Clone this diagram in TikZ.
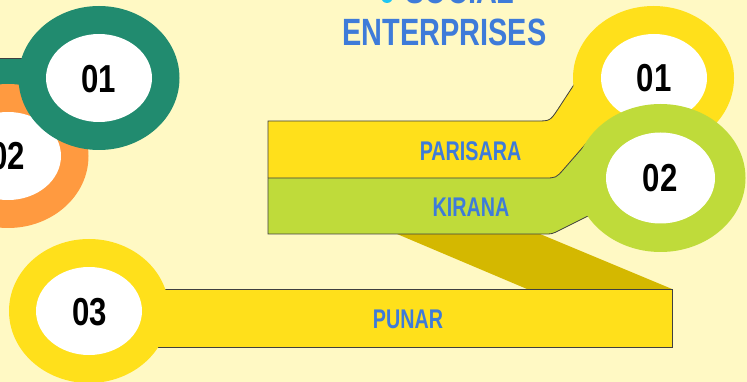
\documentclass[tikz,border=0pt]{standalone}
\usepackage{fontspec}
\setmainfont{Liberation Sans}
\newfontfamily\numfont{Liberation Sans}[FakeStretch=0.8]
\newfontfamily\labfont{Liberation Sans}[FakeStretch=0.73]
\newfontfamily\ttlfont{Liberation Sans}[FakeStretch=0.76]
\definecolor{bgc}{HTML}{FFF9C4}
\definecolor{teal}{HTML}{218B6F}
\definecolor{orng}{HTML}{FF9A40}
\definecolor{ylw}{HTML}{FFE01B}
\definecolor{lime}{HTML}{BFDB3A}
\definecolor{gold}{HTML}{D4B800}
\definecolor{blu}{HTML}{3E7BD9}
\definecolor{cyn}{HTML}{1FC6F2}
\tikzset{
  edge/.style={draw=black!75, line width=0.8pt},
  numtxt/.style={font=\numfont\bfseries\fontsize{39}{39}\selectfont, anchor=base, inner sep=0pt, text=black},
  labtxt/.style={font=\labfont\bfseries\fontsize{27}{27}\selectfont, anchor=base, inner sep=0pt, text=blu},
  ttltxt/.style={font=\ttlfont\bfseries\fontsize{38}{38}\selectfont, anchor=base, inner sep=0pt, text=blu},
}
\begin{document}
\begin{tikzpicture}[x=1pt,y=-1pt]
\useasboundingbox (0,0) rectangle (747,382);
\clip (0,0) rectangle (747,382);
\fill[bgc] (0,0) rectangle (747,382);
% left side
\fill[teal] (-5,58) rectangle (60,86);
\draw[edge] (-5,58) -- (60,58);
\fill[orng] (8,156) ellipse [x radius=80.5, y radius=72];
\fill[white] (8,156) ellipse [x radius=53, y radius=44];
\fill[teal] (99,78) ellipse [x radius=80.5, y radius=72];
\fill[white] (99,78) ellipse [x radius=53, y radius=44];
% connector and PUNAR bar
\fill[gold] (397,234) -- (540,234) -- (672,289) -- (527,289) -- cycle;
\fill[ylw] (150,289) rectangle (672,347);
\draw[edge] (150,289) -- (672,289) -- (672,347) -- (150,347);
\fill[ylw] (89,311) ellipse [x radius=80, y radius=72];
\fill[white] (89,311) ellipse [x radius=53, y radius=44];
% PARISARA band
\coordinate (pa1) at (536,121);
\coordinate (pac) at (550,121);
\coordinate (pa2) at (557.8,109.4);
\coordinate (mi1) at (544,178);
\coordinate (mic) at (556,178);
\coordinate (mi2) at (563.9,169);
\coordinate (bo1) at (544,234);
\coordinate (boc) at (552,234);
\coordinate (bo2) at (559.2,230.4);
\fill[ylw] (268,121) -- (pa1) .. controls (pac) .. (pa2) -- (577,80) -- (653,78) -- (620,140) -- (597,131) -- (mi2) .. controls (mic) .. (mi1) -- (268,178) -- cycle;
\draw[edge] (268,178) -- (268,121) -- (pa1) .. controls (pac) .. (pa2) -- (577,80);
\fill[ylw] (653.5,78) ellipse [x radius=80.5, y radius=72];
\fill[white] (654,78) ellipse [x radius=53, y radius=44];
% KIRANA band
\fill[lime] (268,178) -- (mi1) .. controls (mic) .. (mi2) -- (597,131) -- (660,178) -- (592,214) -- (bo2) .. controls (boc) .. (bo1) -- (268,234) -- cycle;
\draw[edge] (268,178) -- (mi1) .. controls (mic) .. (mi2) -- (597,131);
\draw[edge] (268,178) -- (268,234) -- (bo1) .. controls (boc) .. (bo2) -- (592,214);
\fill[lime] (660.5,178) ellipse [x radius=85, y radius=74];
\fill[white] (660.5,178) ellipse [x radius=54.5, y radius=45.5];
% texts
\node[numtxt] (nL1) at (99,93) {01};
\node[numtxt] (nL2) at (7.5,170) {02};
\node[numtxt] (nR1) at (654,92) {01};
\node[numtxt] (nR2) at (660,192) {02};
\node[numtxt] (nR3) at (89.5,325) {03};
\node[labtxt] (lP) at (470.5,161) {PARISARA};
\node[labtxt] (lK) at (471,217) {KIRANA};
\node[labtxt] (lU) at (408,328) {PUNAR};
\fill[cyn] (387,-2.7) circle [radius=5.7];
\node[ttltxt] (tS) at (460,4) {SOCIAL};
\node[ttltxt] (tE) at (444.5,46) {ENTERPRISES};
\end{tikzpicture}
\end{document}
